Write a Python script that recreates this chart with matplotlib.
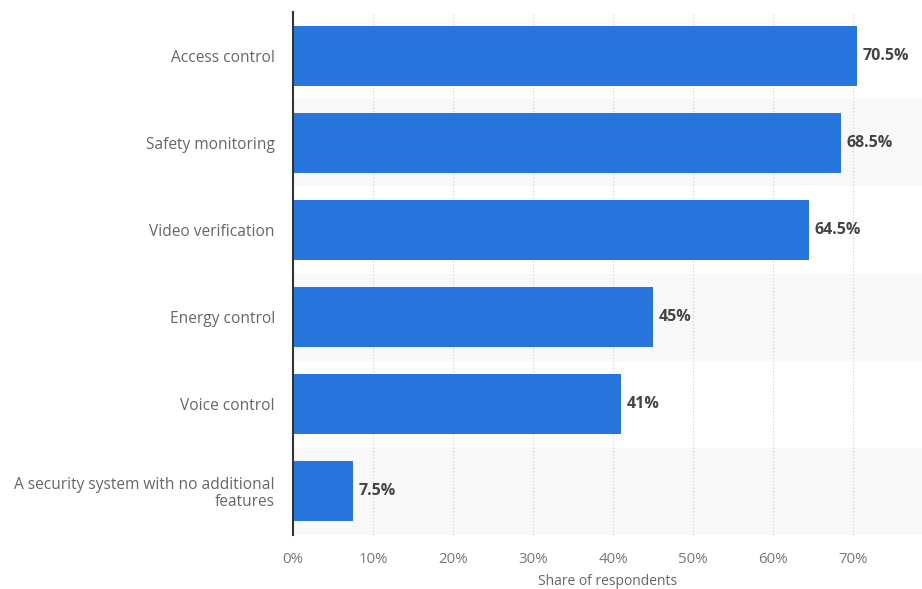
import matplotlib
matplotlib.use("Agg")
import matplotlib.pyplot as plt

categories = [
    "Access control",
    "Safety monitoring",
    "Video verification",
    "Energy control",
    "Voice control",
    "A security system with no additional\nfeatures",
]
values = [70.5, 68.5, 64.5, 45, 41, 7.5]
value_labels = ["70.5%", "68.5%", "64.5%", "45%", "41%", "7.5%"]
xticks = [0, 10, 20, 30, 40, 50, 60, 70]

plt.rcParams['font.family'] = ['Open Sans', 'DejaVu Sans']

fig = plt.figure(figsize=(9.22, 5.89), dpi=100)
ax = fig.add_axes([293 / 922, 1 - 535 / 589, 1 - 293 / 922, (535 - 12) / 589])

y = list(range(len(categories)))

# alternating row stripes
for i in y:
    if i % 2 == 1:
        ax.axhspan(i - 0.5, i + 0.5, color='#f8f8f8', zorder=0, lw=0)

ax.barh(y, values, height=0.69, color='#2876dd', zorder=3)

for yi, v, lab in zip(y, values, value_labels):
    ax.text(v + 0.7, yi, lab, va='center', ha='left', fontsize=11.5,
            fontweight='bold', color='#444444', zorder=4)

ax.set_ylim(len(categories) - 0.5, -0.5)
ax.set_xlim(0, 78.6)

ax.set_yticks(y)
ax.set_yticklabels(categories, fontsize=11.2, color='#666666', linespacing=1.05)
ax.set_xticks(xticks)
ax.set_xticklabels([f"{t}%" for t in xticks], fontsize=10.8, color='#777777')

ax.tick_params(axis='y', length=0, pad=13)
ax.tick_params(axis='x', length=0, pad=12)

ax.grid(axis='x', color='#cccccc', linestyle=(0, (1, 2)), linewidth=0.8, zorder=1)
ax.set_axisbelow(True)

for s in ['top', 'right', 'bottom']:
    ax.spines[s].set_visible(False)
ax.spines['left'].set_color('#333333')
ax.spines['left'].set_linewidth(1.5)
ax.spines['left'].set_zorder(5)

ax.set_xlabel("Share of respondents", fontsize=10, color='#666666', labelpad=5)

fig.savefig("out.png", dpi=100)
